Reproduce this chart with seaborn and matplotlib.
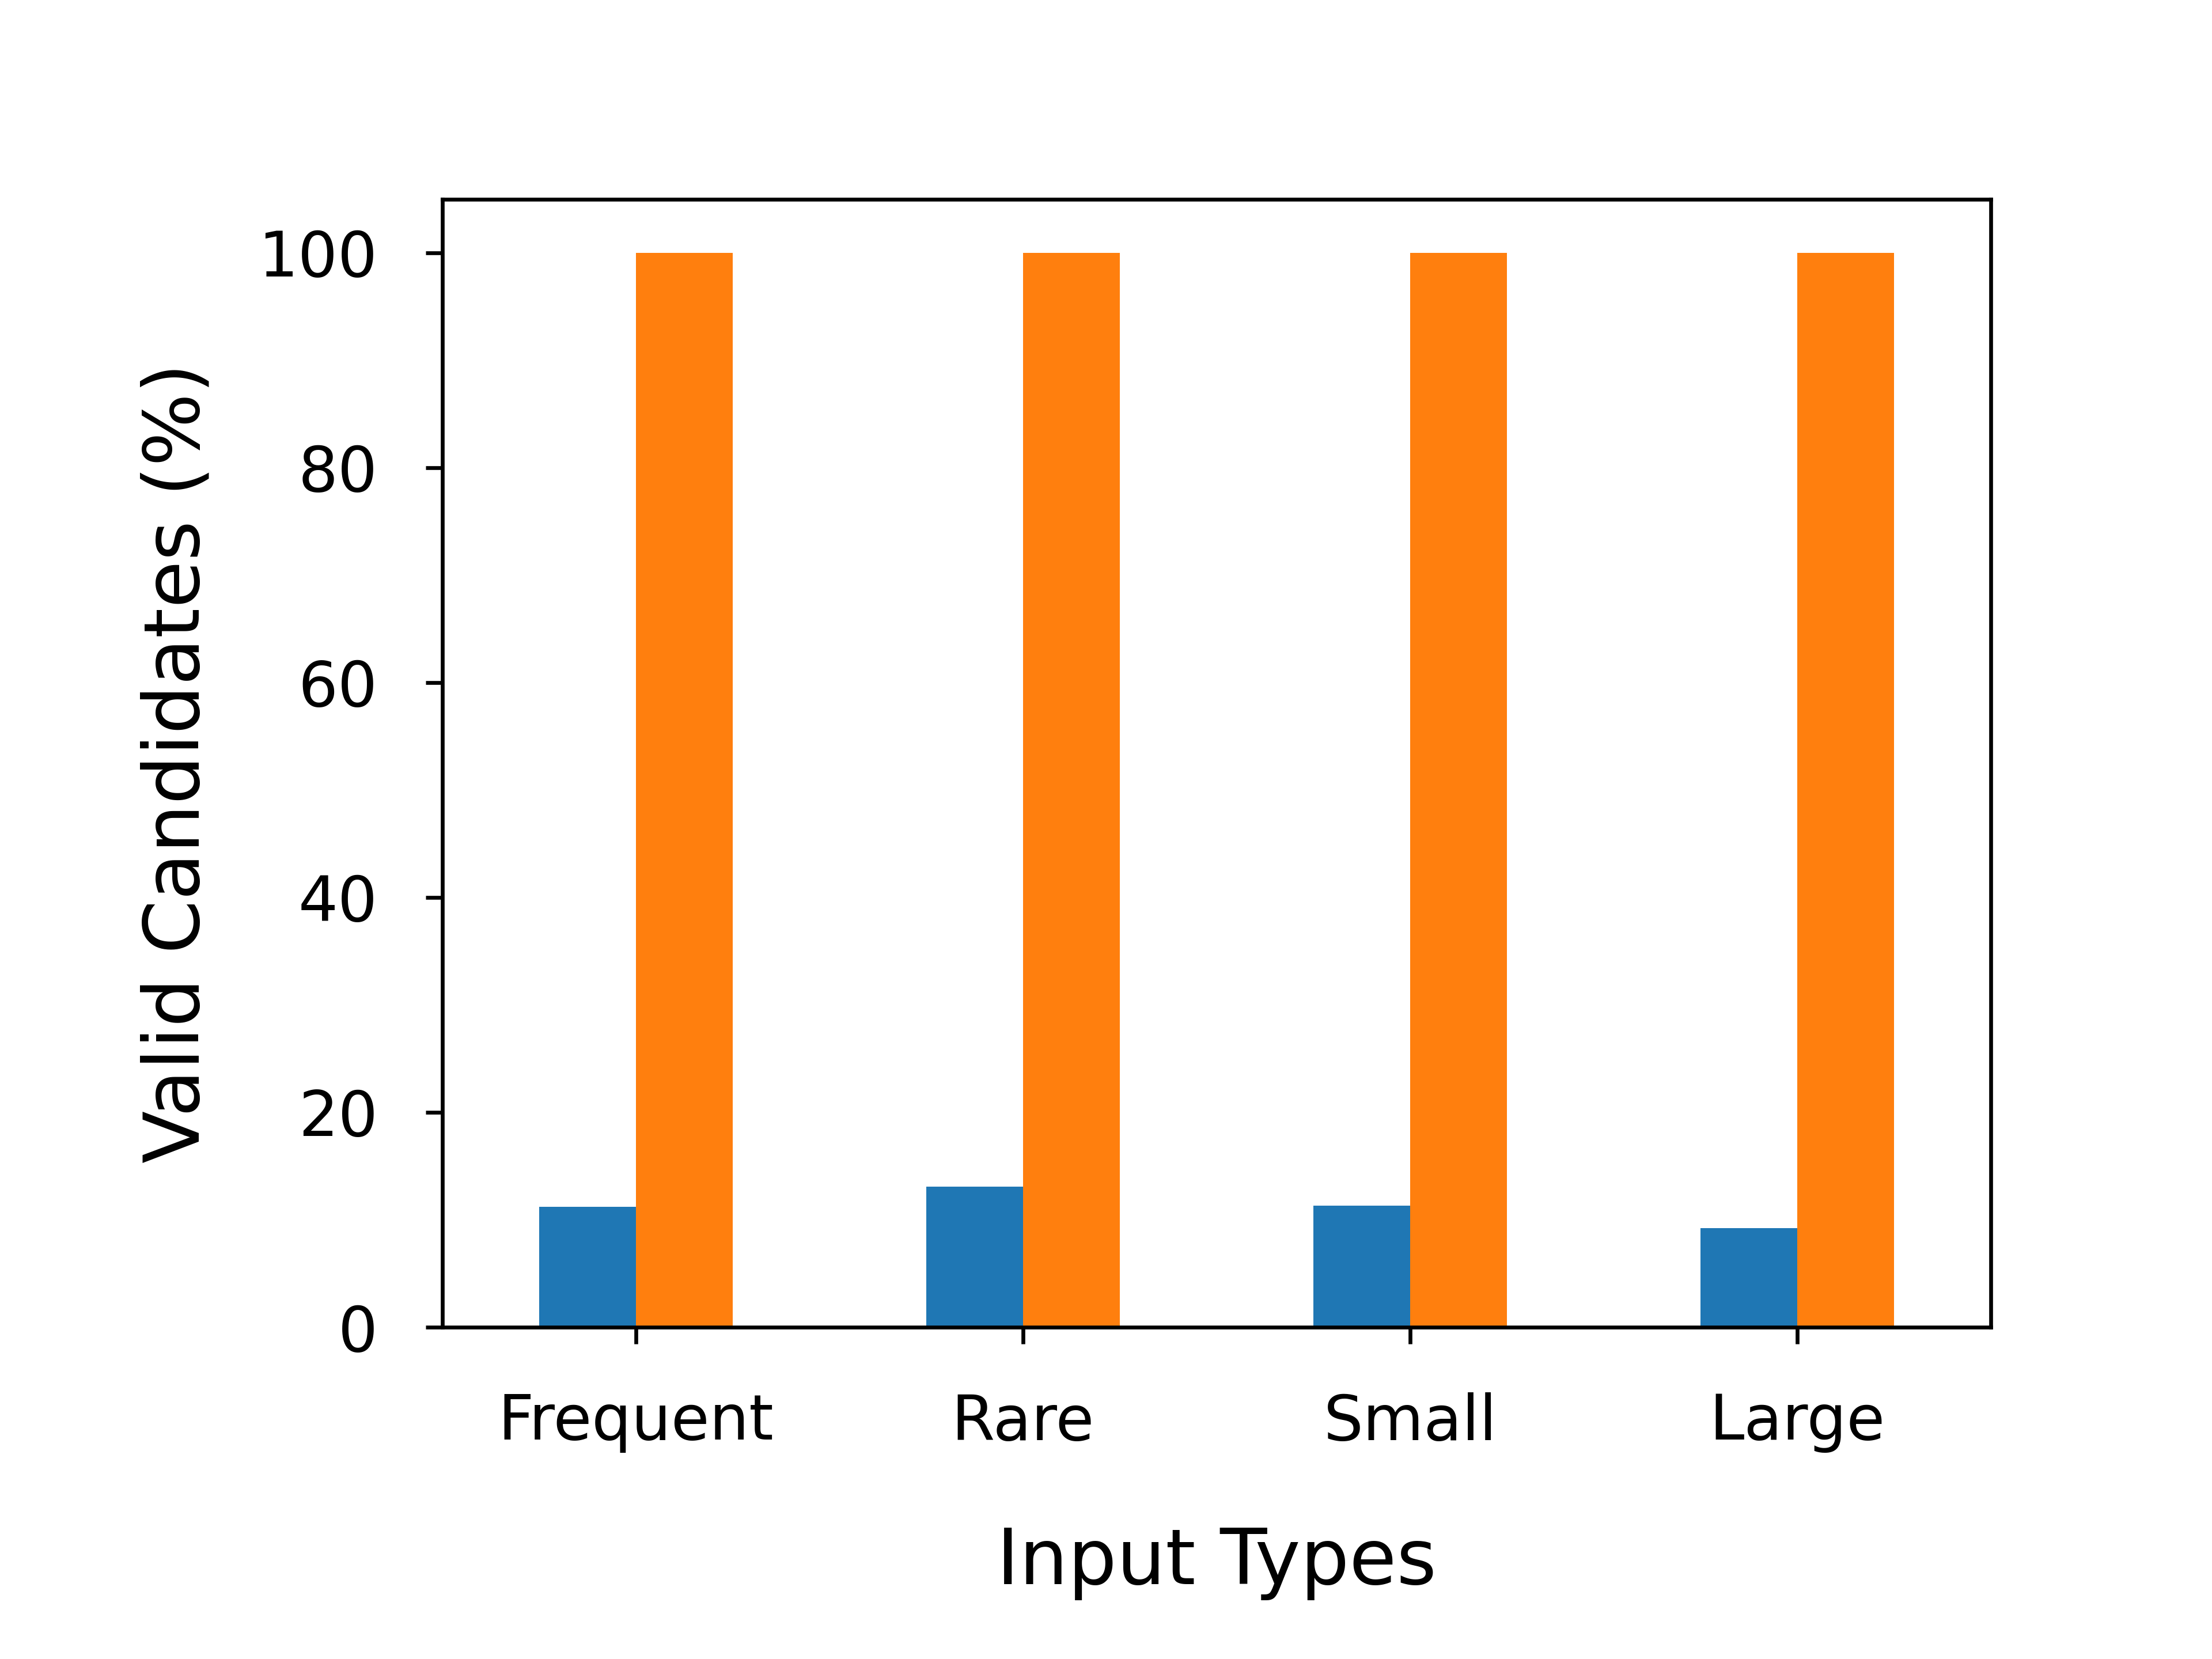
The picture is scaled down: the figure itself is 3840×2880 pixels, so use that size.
import pandas as pd
import matplotlib
matplotlib.use("Agg")
import matplotlib.pyplot as plt
import seaborn as sns

# --- data ---
input_types = ['Frequent', 'Rare', 'Small', 'Large']
baseline_valid = [11.2, 13.1, 11.3, 9.2]
ours_valid = [100, 100, 100, 100]
methods = ['Baseline', 'Ours']

df = pd.DataFrame({
    'Input Type': input_types * 2,
    'Valid': baseline_valid + ours_valid,
    'Method': [methods[0]] * len(input_types) + [methods[1]] * len(input_types),
})

# --- plot ---
fig, ax = plt.subplots(figsize=(6.4, 4.8), dpi=600)
fig.subplots_adjust(left=0.2, right=0.9, bottom=0.2, top=0.88)

sns.barplot(data=df, x='Input Type', y='Valid', hue='Method',
            palette=['#1f77b4', '#ff7f0e'], width=0.5, saturation=1,
            legend=False, ax=ax)

ax.set_ylim(0, 105)
ax.set_yticks([0, 20, 40, 60, 80, 100])
ax.set_xlabel('Input Types', fontsize=16, labelpad=15)
ax.set_ylabel('Valid Candidates (%)', fontsize=16, labelpad=9)
ax.tick_params(axis='both', labelsize=13, pad=10)

fig.savefig('out.png', dpi=600)
